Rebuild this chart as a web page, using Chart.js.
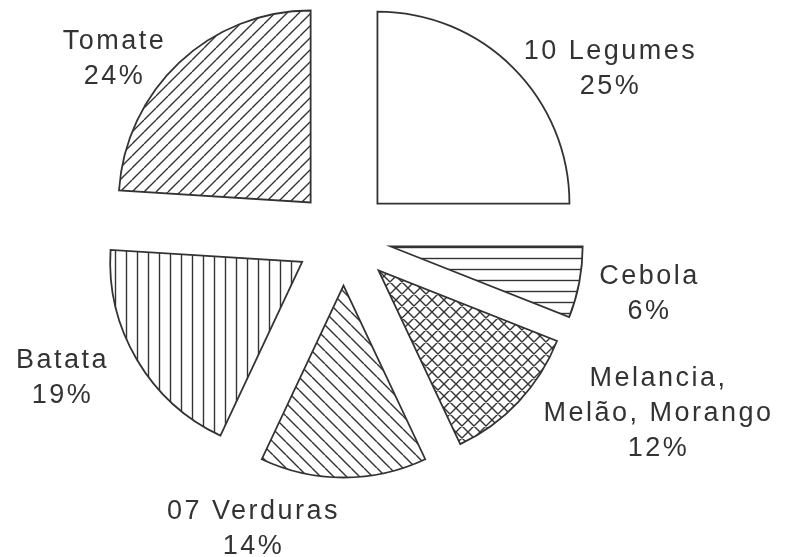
<!DOCTYPE html>
<html>
<head>
<meta charset="utf-8">
<script src="https://cdn.jsdelivr.net/npm/chart.js@4/dist/chart.umd.min.js"></script>
<style>
  html, body { margin: 0; padding: 0; background: #fff; }
  #pie { display: block; }
</style>
</head>
<body>
<canvas id="pie" width="791" height="557"></canvas>
<script>
// Parts de chaque groupe de produits (en %), dans le sens horaire depuis midi
const categories = ['10 Legumes', 'Cebola', 'Melancia, Melão, Morango', '07 Verduras', 'Batata', 'Tomate'];
const shares = [25, 6, 12, 14, 19, 24];
// Texte des étiquettes, ligne par ligne (le pourcentage est ajouté à la fin)
const labelNames = [['10 Legumes'], ['Cebola'], ['Melancia,', 'Melão, Morango'], ['07 Verduras'], ['Batata'], ['Tomate']];

// Style : hachure de chaque part (type, pas en px), décalage des étiquettes par rapport au centre
const hatchKinds = [['none', 0], ['horizontal', 11], ['cross', 12], ['backslash', 13], ['vertical', 11], ['slash', 12]];
const labelOffsets = [[266, -179], [305, 46], [314, 148], [-91, 281], [-282, 130], [-230, -189]];
const EXPLODE = 48;      // écartement des parts
const LINE_GAP = 35;     // interligne des étiquettes
const INK = '#333';

// Crée un motif de hachures sur un petit canevas
function makeHatch([kind, s]) {
  if (kind === 'none') return '#ffffff';
  const tile = document.createElement('canvas');
  tile.width = tile.height = s;
  const c = tile.getContext('2d');
  c.fillStyle = '#fff';
  c.fillRect(0, 0, s, s);
  c.strokeStyle = '#333';
  c.lineWidth = 1.4;
  c.beginPath();
  if (kind === 'horizontal') {
    c.moveTo(0, s / 2); c.lineTo(s, s / 2);
  } else if (kind === 'vertical') {
    c.moveTo(s / 2, 0); c.lineTo(s / 2, s);
  } else {
    for (let k = -1; k <= 1; k++) {
      if (kind === 'slash' || kind === 'cross') {
        c.moveTo(k * s, s); c.lineTo(k * s + s, 0);
      }
      if (kind === 'backslash' || kind === 'cross') {
        c.moveTo(k * s, 0); c.lineTo(k * s + s, s);
      }
    }
  }
  c.stroke();
  return c.createPattern(tile, 'repeat');
}

// Écarte chaque part le long de sa bissectrice
const explodePlugin = {
  id: 'explode',
  afterDatasetsUpdate(chart) {
    chart.getDatasetMeta(0).data.forEach((arc) => {
      const mid = (arc.startAngle + arc.endAngle) / 2;
      arc.x += Math.cos(mid) * EXPLODE;
      arc.y += Math.sin(mid) * EXPLODE;
    });
  }
};

// Étiquettes : nom + pourcentage, centrées
const labelPlugin = {
  id: 'sliceLabels',
  afterDraw(chart) {
    const ctx = chart.ctx;
    const area = chart.chartArea;
    const cx = (area.left + area.right) / 2;
    const cy = (area.top + area.bottom) / 2;
    ctx.save();
    ctx.font = '27px "Liberation Sans", Arial, sans-serif';
    ctx.letterSpacing = '2.5px';
    ctx.fillStyle = INK;
    ctx.textAlign = 'center';
    ctx.textBaseline = 'alphabetic';
    labelNames.forEach((lines, i) => {
      const all = lines.concat([shares[i] + '%']);
      const [dx, dy] = labelOffsets[i];
      all.forEach((txt, j) => {
        ctx.fillText(txt, cx + dx + 1, cy + dy + j * LINE_GAP);
      });
    });
    ctx.restore();
  }
};

const ctx = document.getElementById('pie').getContext('2d');
const chart = new Chart(ctx, {
  type: 'pie',
  data: {
    labels: categories,
    datasets: [{
      data: shares,
      backgroundColor: hatchKinds.map(makeHatch),
      borderColor: '#333',
      borderWidth: 1.8,
      borderJoinStyle: 'miter',
      hoverOffset: 0
    }]
  },
  options: {
    responsive: false,
    devicePixelRatio: 1,
    animation: false,
    events: [],
    radius: 192,
    layout: { padding: { left: 0, right: 104, top: 2, bottom: 84 } },
    plugins: {
      legend: { display: false },
      tooltip: { enabled: false }
    }
  },
  plugins: [explodePlugin, labelPlugin]
});
</script>
</body>
</html>
